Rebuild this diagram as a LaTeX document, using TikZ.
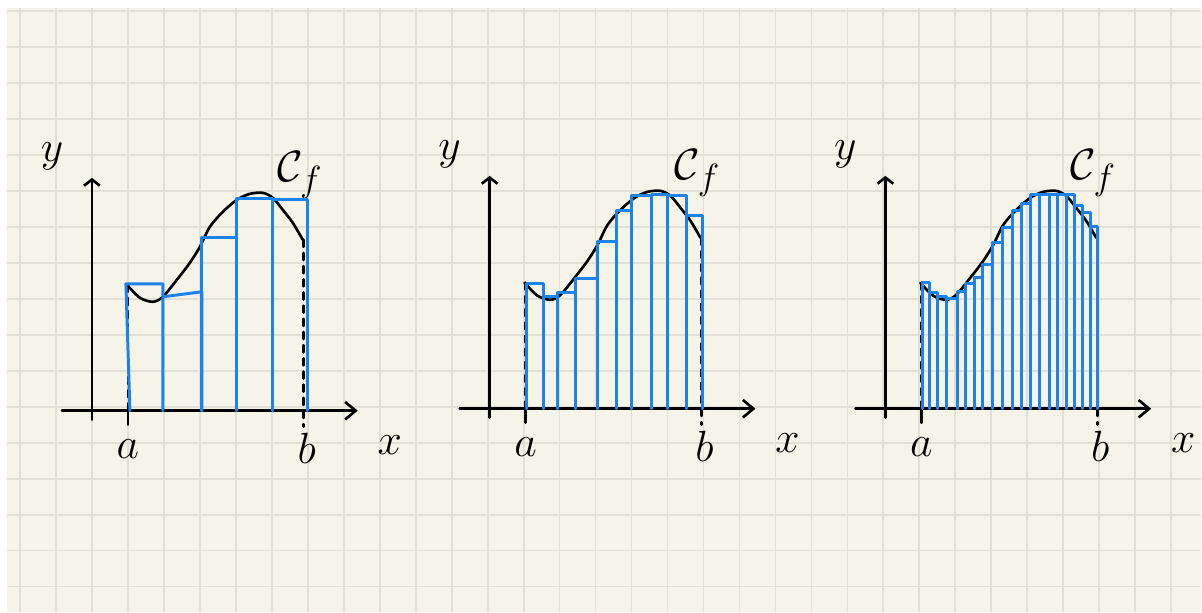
\documentclass[tikz,border=0pt]{standalone}
\usepackage{amsmath}
\definecolor{paper}{RGB}{246,244,233}
\definecolor{gridline}{RGB}{226,224,213}
\definecolor{penblue}{RGB}{28,132,232}
\usetikzlibrary{arrows.meta}

\begin{document}
\begin{tikzpicture}[x=0.02cm,y=0.02cm,
  pen/.style={line width=1.5pt,line cap=round,line join=round},
  bar/.style={pen,draw=penblue,line width=1.7pt},
  guide/.style={pen,dash pattern=on 4pt off 3.5pt},
  hand/.style={font=\Huge,inner sep=0pt}
]
  % squared paper
  \fill[white] (0,0) rectangle (1202,612);
  \fill[paper] (7,0) rectangle (1202,604);
  \foreach \gx in {0,...,32}
    \draw[gridline,line width=1pt] ({20+36*\gx},0) -- ({20+36*\gx},604);
  \foreach \gy in {0,...,16}
    \draw[gridline,line width=1pt] (7,{601-36*\gy}) -- (1202,{601-36*\gy});

  % axes, curve and labels (same in the three sketches)
  \foreach \ox/\oy/\k in {92/201/1,490/203/2,886/203/3}{
    \begin{scope}[shift={(\ox,\oy)}]
      \draw[pen,-{Straight Barb[length=6pt,width=10pt]}] (-30,0) -- (266,0);
      \draw[pen,-{Straight Barb[length=3.5pt,width=9pt]}] (0,-9) -- (0,233);
      \draw[pen] plot[smooth] coordinates {(35,126) (48,113) (61,109) (71,114)
        (85,131) (98,148) (108,164) (118,184) (131,199) (145,211) (158,217)
        (171,218) (181,213) (191,201) (201,188) (211,171)};
      \draw[guide] (36,126) -- (36,0);
      \draw[pen] (36,0) -- (36,-14);
      \draw[guide] (212,171) -- (212,-16);
      \node[hand] (ylab\k) at (-40,255) {$y$};
      \node[hand] (xlab\k) at (298,-34) {$x$};
      \node[hand] (alab\k) at (36,-38) {$a$};
      \node[hand] (blab\k) at (215,-38) {$b$};
      \node[hand] (cf\k) at (208,236) {$\mathcal{C}_f$};
    \end{scope}
  }

  % 5 rectangles
  \begin{scope}[shift={(92,201)}]
    \draw[bar] (38,0) -- (34,127) -- (71,127) -- (71,0);
    \draw[bar] (71,114) -- (110,119) -- (110,0);
    \foreach \l/\r/\h in {110/145/173,145/181/212,181/216/211}
      \draw[bar] (\l,0) |- (\r,\h) -- (\r,0);
  \end{scope}

  % 10 rectangles
  \begin{scope}[shift={(490,203)}]
    \foreach \l/\r/\h in {37/54/125,54/68/112,68/86/116,86/108/130,108/127/167,
        127/142/198,142/162/213,162/178/214,178/197/213,197/213/193}
      \draw[bar] (\l,0) |- (\r,\h) -- (\r,0);
  \end{scope}

  % 20 rectangles
  \begin{scope}[shift={(886,203)}]
    \foreach \l/\r/\h in {37/44/126,44/52/116,52/61/112,61/72/110,72/80/117,
        80/89/125,89/97/131,97/107/144,107/117/166,117/127/181,127/136/198,
        136/145/205,145/154/214,154/164/214,164/172/214,172/181/214,
        181/189/214,189/197/203,197/205/196,205/212/182}
      \draw[bar] (\l,0) |- (\r,\h) -- (\r,0);
  \end{scope}
\end{tikzpicture}
\end{document}
